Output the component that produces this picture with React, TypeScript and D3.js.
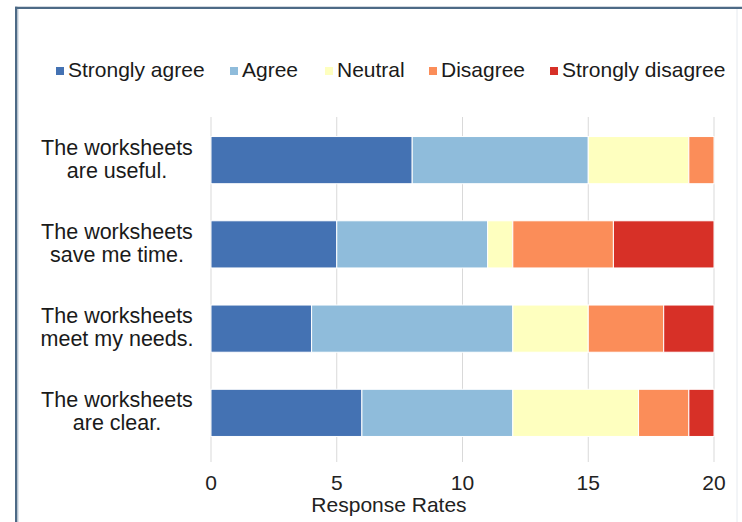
import React from "react";
import * as d3 from "d3";

const categories = [
  ["The worksheets", "are useful."],
  ["The worksheets", "save me time."],
  ["The worksheets", "meet my needs."],
  ["The worksheets", "are clear."],
];
const seriesNames = ["Strongly agree", "Agree", "Neutral", "Disagree", "Strongly disagree"];
const stronglyAgree = [8, 5, 4, 6];
const agree = [7, 6, 8, 6];
const neutral = [4, 1, 3, 5];
const disagree = [1, 4, 3, 2];
const stronglyDisagree = [0, 4, 2, 1];
const xTicks = [0, 5, 10, 15, 20];
const colors = ["#4472b3", "#8fbcdb", "#feffbf", "#fb8d59", "#d73027"];

const W = 742;
const H = 522;
const FONT = "'Liberation Sans', Arial, sans-serif";

export default function App() {
  const rows = categories.map((c, i) => ({
    key: String(i),
    "Strongly agree": stronglyAgree[i],
    Agree: agree[i],
    Neutral: neutral[i],
    Disagree: disagree[i],
    "Strongly disagree": stronglyDisagree[i],
  }));
  const stack = d3.stack<any>().keys(seriesNames)(rows);
  const x = d3.scaleLinear().domain([0, 20]).range([211, 714]);
  const y = d3
    .scaleBand<string>()
    .domain(categories.map((_, i) => String(i)))
    .range([118, 455])
    .paddingInner(0.44)
    .paddingOuter(0.22);

  const legendSquareX = [56, 230, 325, 429, 550];

  return (
    <svg
      width={W}
      height={H}
      style={{ position: "absolute", left: 0, top: 0, background: "#fff" }}
      fontFamily={FONT}
    >
      <rect x={0} y={0} width={W} height={H} fill="#fff" />
      {/* frame */}
      <line x1={16.2} y1={6.7} x2={16.2} y2={H} stroke="#4d6a86" strokeWidth={2.4} />
      <line x1={15} y1={7.9} x2={W} y2={7.9} stroke="#4d6a86" strokeWidth={2.4} />
      <line x1={18.5} y1={9} x2={18.5} y2={H} stroke="#dfe5ec" strokeWidth={1} />
      <line x1={737} y1={9} x2={737} y2={H} stroke="#e6eaef" strokeWidth={1} />

      {/* gridlines */}
      {xTicks.map((t) => (
        <line
          key={t}
          x1={x(t)}
          x2={x(t)}
          y1={117}
          y2={462}
          stroke="#d9d9d9"
          strokeWidth={1}
        />
      ))}

      {/* bars */}
      {stack.map((s, si) =>
        s.map((d, i) =>
          d[1] - d[0] > 0 ? (
            <rect
              key={si + "-" + i}
              x={x(d[0])}
              y={y(String(i))}
              width={x(d[1]) - x(d[0])}
              height={y.bandwidth()}
              fill={colors[si]}
              stroke="#ffffff"
              strokeWidth={1}
            />
          ) : null
        )
      )}

      {/* category labels */}
      {categories.map((c, i) => {
        const cy = (y(String(i)) as number) + y.bandwidth() / 2;
        return (
          <text key={i} textAnchor="middle" fontSize={21.5} fill="#1a1a1a">
            <tspan x={117} y={cy - 5.5}>{c[0]}</tspan>
            <tspan x={117} y={cy + 17.5}>{c[1]}</tspan>
          </text>
        );
      })}

      {/* tick labels */}
      {xTicks.map((t) => (
        <text key={t} x={x(t)} y={490} textAnchor="middle" fontSize={21} fill="#222">
          {t}
        </text>
      ))}
      <text x={389} y={512} textAnchor="middle" fontSize={21} fill="#222">
        Response Rates
      </text>

      {/* legend */}
      {seriesNames.map((n, i) => (
        <g key={n}>
          <rect x={legendSquareX[i]} y={67} width={8} height={8} fill={colors[i]} />
          <text x={legendSquareX[i] + 12} y={77} fontSize={21} fill="#1a1a1a">
            {n}
          </text>
        </g>
      ))}
    </svg>
  );
}
